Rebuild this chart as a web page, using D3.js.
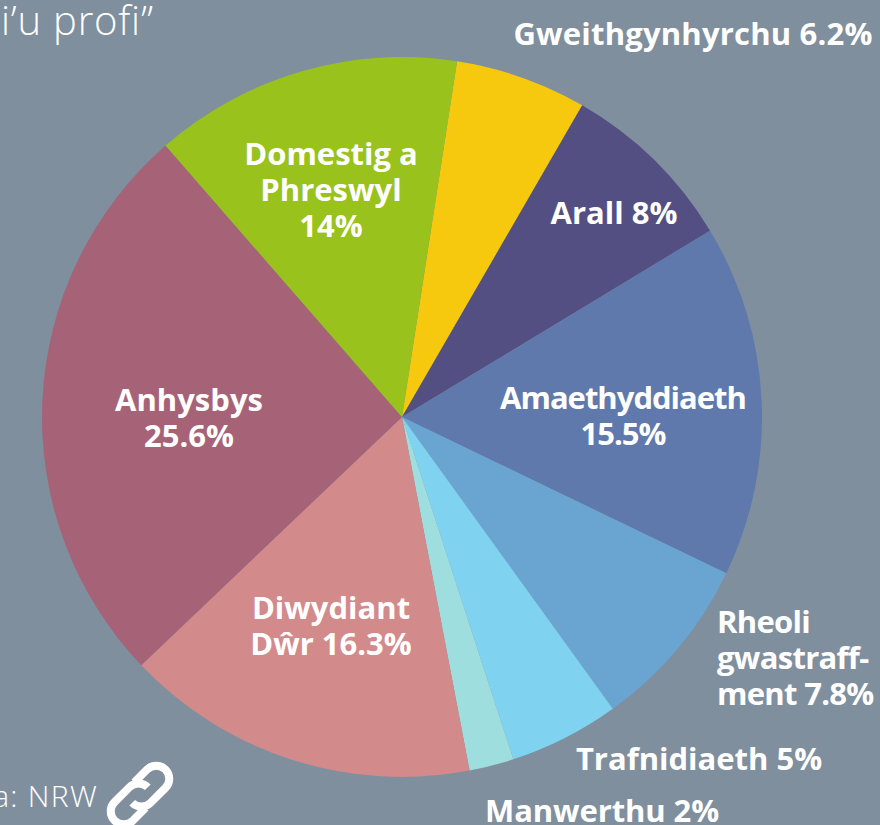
<!DOCTYPE html>
<html><head><meta charset="utf-8">
<script src="https://cdn.jsdelivr.net/npm/d3@7"></script>
<style>html,body{margin:0;padding:0;background:#7f8f9e;overflow:hidden}svg{display:block}
text{font-family:"Open Sans",sans-serif;fill:#fff}</style></head><body>
<svg id="c" width="880" height="825"></svg>
<script>
const categories=["Gweithgynhyrchu","Arall","Amaethyddiaeth","Rheoli gwastraff","Trafnidiaeth","Manwerthu","Diwydiant Dŵr","Anhysbys","Domestig a Phreswyl"];
// wedge sizes as drawn in the picture (read from the slice boundaries, in % of the circle)
const values=[5.9,8,15.8,7.9,4.95,2,15.9,25.7,13.85];
const colors=["#f6c80e","#544f82","#5f79ad","#6aa5d2","#7fd3f0","#9fdede","#d28a8a","#a66377","#99c21c"];
// values as printed on the labels
const labelLines=[["Gweithgynhyrchu 6.2%"],["Arall 8%"],["Amaethyddiaeth","15.5%"],["Rheoli","gwastraff-","ment 7.8%"],["Trafnidiaeth 5%"],["Manwerthu 2%"],["Diwydiant","Dŵr 16.3%"],["Anhysbys","25.6%"],["Domestig a","Phreswyl","14%"]];
const labelPos=[[693,37],[614,216],[623,401],[717,625],[699,762],[602,814],[331,611],[189,403],[331,157]];
const labelAnchor=["middle","middle","middle","start","middle","middle","middle","middle","middle"];
const labelSpacing=[0.2,0,-1,-0.7,0,-0.1,0,0,0];
const svg=d3.select("#c");
const cx=402,cy=417,R=360;
const a0=8.8*Math.PI/180;
const pie=d3.pie().sort(null).startAngle(a0).endAngle(a0+2*Math.PI);
const arc=d3.arc().innerRadius(0).outerRadius(R);
const g=svg.append("g").attr("transform",`translate(${cx},${cy})`);
g.selectAll("path").data(pie(values)).join("path").attr("d",arc).attr("fill",(d,i)=>colors[i]);
const lh=36;
categories.forEach((c,i)=>{
  const t=svg.append("text").attr("text-anchor",labelAnchor[i]).attr("font-weight",700).attr("font-size",31)
    .attr("letter-spacing",labelSpacing[i]).attr("dominant-baseline","middle");
  labelLines[i].forEach((l,j)=>t.append("tspan").attr("x",labelPos[i][0]).attr("y",labelPos[i][1]+j*lh).text(l));
});
svg.append("text").attr("x",1).attr("y",35).attr("font-size",40).attr("letter-spacing",0.8).attr("font-weight",300).text("i’u profi”");
svg.append("text").attr("x",98).attr("y",807).attr("text-anchor","end").attr("font-size",30).attr("letter-spacing",1.3).attr("font-weight",300).text("Data: NRW");
const link=svg.append("g").attr("transform","translate(140,795) rotate(-45)").attr("fill","none").attr("stroke","#fff").attr("stroke-width",8);
link.append("path").attr("d","M5,-13H23A13,13 0 0 1 23,13H2A13,13 0 0 1 -11,0");
link.append("path").attr("d","M-5,13H-23A13,13 0 0 1 -23,-13H-2A13,13 0 0 1 11,0");
</script></body></html>
